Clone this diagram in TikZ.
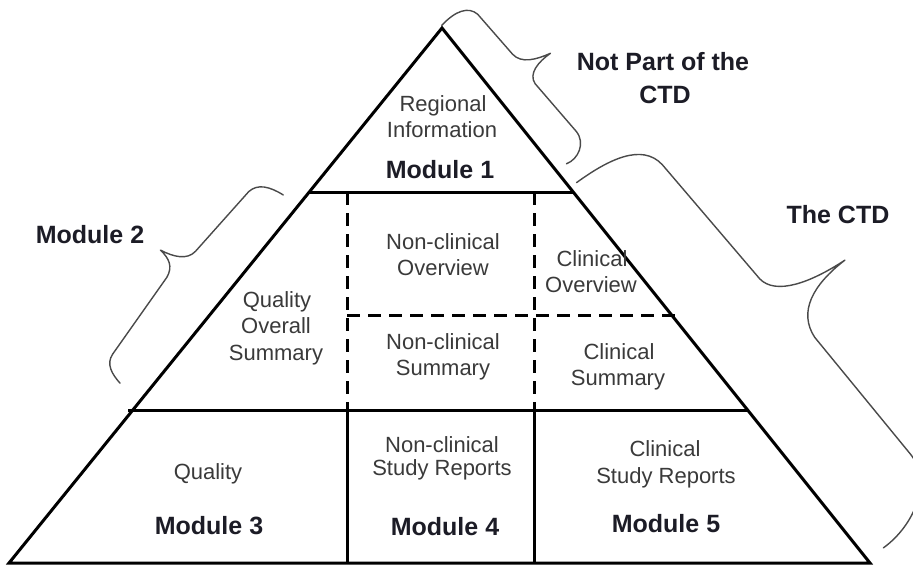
\documentclass[tikz,border=0pt]{standalone}
\usepackage{fontspec}
\setmainfont{Liberation Sans}
\definecolor{txtgray}{HTML}{3A3A3A}
\definecolor{lblblack}{HTML}{1C1C26}
\definecolor{bracegray}{HTML}{4A4A4A}
\tikzset{
  txt/.style={anchor=base, inner sep=0pt, text=txtgray, font=\fontsize{22}{26}\selectfont},
  lbl/.style={anchor=base, inner sep=0pt, text=lblblack, font=\fontsize{25}{30}\selectfont\bfseries},
  frame/.style={draw=black, line width=3pt},
  dashline/.style={draw=black, line width=3pt, dash pattern=on 13pt off 8pt},
  bracestroke/.style={draw=bracegray, line width=1.4pt, line join=round, line cap=round}
}
\begin{document}
\begin{tikzpicture}[x=1pt,y=-1pt]
\useasboundingbox (0,0) rectangle (913,565);
\fill[white] (0,0) rectangle (913,565);
\clip (0,0) rectangle (913,565);
% key points
\coordinate (apex) at (442,28);
\coordinate (bl) at (9,563);
\coordinate (br) at (870,563);
\coordinate (m1l) at (309,192);
\coordinate (m1r) at (573,192);
\coordinate (m2l) at (128,410);
\coordinate (m2r) at (748,410);
\coordinate (dhl) at (347,315);
\coordinate (dhr) at (681,315);
\coordinate (v1t) at (347,192);
\coordinate (v1m) at (347,410);
\coordinate (v1b) at (347,563);
\coordinate (v2t) at (534,192);
\coordinate (v2m) at (534,410);
\coordinate (v2b) at (534,563);
% pyramid
\draw[frame, line join=miter] (apex) -- (br) -- (bl) -- cycle;
\draw[frame] (m1l) -- (m1r);
\draw[frame] (m2l) -- (m2r);
\draw[frame] (v1m) -- (v1b);
\draw[frame] (v2m) -- (v2b);
\draw[dashline] (v1t) -- (v1m);
\draw[dashline] (v2t) -- (v2m);
\draw[dashline] (dhl) -- (dhr);
% texts
\node[txt] (reg1) at (443,111) {Regional};
\node[txt] (reg2) at (442,137) {Information};
\node[lbl] (mod1) at (440,178) {Module 1};
\node[txt] (nco1) at (443,249) {Non-clinical};
\node[txt] (nco2) at (443,275) {Overview};
\node[txt] (co1) at (592,266) {Clinical};
\node[txt] (co2) at (591,292) {Overview};
\node[txt] (qos1) at (277,307) {Quality};
\node[txt] (qos2) at (276,333) {Overall};
\node[txt] (qos3) at (276,360) {Summary};
\node[txt] (ncs1) at (443,349) {Non-clinical};
\node[txt] (ncs2) at (443,375) {Summary};
\node[txt] (cs1) at (619,359) {Clinical};
\node[txt] (cs2) at (618,385) {Summary};
\node[txt] (q3) at (208,479) {Quality};
\node[lbl] (mod3) at (209,534) {Module 3};
\node[txt] (nsr1) at (442,452) {Non-clinical};
\node[txt] (nsr2) at (442,475) {Study Reports};
\node[lbl] (mod4) at (445,535) {Module 4};
\node[txt] (csr1) at (665,456) {Clinical};
\node[txt] (csr2) at (666,483) {Study Reports};
\node[lbl] (mod5) at (666,532) {Module 5};
\node[lbl] (np1) at (663,70) {Not Part of the};
\node[lbl] (np2) at (665,103) {CTD};
\node[lbl] (mod2) at (90,243) {Module 2};
\node[lbl] (ctd) at (838,223) {The CTD};
% braces along the right edge (along, normal coordinates)
\begin{scope}[shift={(443,27)}]
\begin{scope}[x={(0.6286pt,-0.7776pt)}, y={(0.7776pt,0.6286pt)}]
\draw[bracestroke] (-2,0) .. controls (-5,20) and (0,33) .. (12,35)
  -- (65,37) .. controls (78,38) and (84,52) .. (88,67)
  .. controls (87,52) and (90,37) .. (102,36)
  -- (165,38) .. controls (180,38) and (188,22) .. (184,10);
\draw[bracestroke] (205,6) .. controls (207,45) and (215,82) .. (245,84)
  -- (395,88) .. controls (418,90) and (430,125) .. (434,166)
  .. controls (433,125) and (445,97) .. (475,94)
  -- (625,95) .. controls (660,96) and (684,55) .. (682,15);
\end{scope}
\end{scope}
% brace along the left edge
\begin{scope}[shift={(443,27)}]
\begin{scope}[x={(-0.6274pt,-0.7787pt)}, y={(-0.7787pt,0.6274pt)}]
\draw[bracestroke] (231,19) .. controls (233,35) and (238,46) .. (250,48)
  -- (330,52) .. controls (342,53) and (348,65) .. (351,80)
  .. controls (352,68) and (356,60) .. (368,58)
  -- (462,52) .. controls (474,51) and (478,40) .. (480,28);
\end{scope}
\end{scope}
\end{tikzpicture}
\end{document}
